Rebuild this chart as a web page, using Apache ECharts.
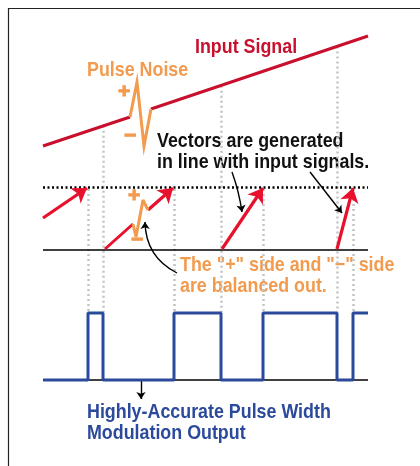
<!DOCTYPE html>
<html>
<head>
<meta charset="utf-8">
<script src="https://cdn.jsdelivr.net/npm/echarts@6/dist/echarts.min.js"></script>
<style>
html, body { margin: 0; padding: 0; background: #fff; }
#chart { width: 420px; height: 466px; }
</style>
</head>
<body>
<div id="chart"></div>
<script>
// drawing units: x to the right, y grows downward (same scale as the picture)
var inputSignalA = [[43, 146], [130, 117]];
var inputSignalB = [[151, 109], [368, 36]];
var pulseNoise = [[130, 117], [137, 82], [144, 146], [151, 109]];

// PWM switching instants and the levels between them
var switchX = [88, 103, 174, 221, 263, 337, 353];
var sampleX = [103, 221, 337];
var pwmStart = 43, pwmEnd = 368;
var pwmLevels = [0, 1, 0, 1, 0, 1, 0, 1];
var pwmLow = 380, pwmHigh = 313;

// vector area
var vectorTop = 187, vectorBase = 249;
var vectors = [
  [[43, 218], [87, 188]],
  [[148, 210], [173, 188]],
  [[222, 249], [263, 188]],
  [[337, 249], [353, 188]]
];
var vectorTail = [[105, 249], [133, 224]];
var vectorNoise = [[133, 224], [136, 237], [143, 200], [148, 210]];

// thin annotation pointers [from, to, curveness]
var pointers = [
  [[232, 172], [242, 212], 0.05],
  [[310, 172], [342, 213], 0],
  [[177, 273], [145, 222], 0.3]
];
var outputPointer = [[141, 381], [141, 399]];

// texts
var texts = [
  'Input Signal', 'Pulse Noise', '+', '\u2212',
  'Vectors are generated', 'in line with input signals.',
  '+', '\u2212',
  'The "+" side and "\u2212" side', 'are balanced out.',
  'Highly-Accurate Pulse Width', 'Modulation Output'
];

// layout of the texts: [x(left), y(middle), colour]
var RED = '#c8102e', ARROW_RED = '#e8112d', ORANGE = '#f29b4f', BLUE = '#2c4a9c';
var textPos = [
  [195, 47, RED], [87, 70, ORANGE], [118, 92, ORANGE], [124, 136, ORANGE],
  [157, 141, '#111'], [157, 162, '#111'],
  [128, 196, ORANGE], [131, 240, ORANGE],
  [180, 265, ORANGE], [180, 286, ORANGE],
  [87, 412, BLUE], [87, 433, BLUE]
];
var FONT = 'bold 21px "Liberation Sans", Arial, sans-serif';
var SQUEEZE = 0.85;

function inputY(x) {
  var a = inputSignalA[0], b = inputSignalB[1];
  return a[1] + (x - a[0]) * (b[1] - a[1]) / (b[0] - a[0]);
}

var dotted = switchX.map(function (x) {
  var top = sampleX.indexOf(x) >= 0 ? inputY(x) : vectorTop + 2;
  return { coords: [[x, top], [x, pwmHigh - 1]] };
});

var edges = [pwmStart].concat(switchX).concat([pwmEnd]);
var pwmData = [];
pwmLevels.forEach(function (lv, i) {
  var y = lv ? pwmHigh : pwmLow;
  pwmData.push([edges[i], y]);
  pwmData.push([edges[i + 1], y]);
});

var chart = echarts.init(document.getElementById('chart'));
chart.setOption({
  animation: false,
  backgroundColor: '#fff',
  grid: { left: 0, right: 0, top: 0, bottom: 0 },
  xAxis: { type: 'value', min: 0, max: 420, show: false },
  yAxis: { type: 'value', min: 0, max: 466, inverse: true, show: false },
  series: [
    {
      type: 'lines', coordinateSystem: 'cartesian2d', silent: true,
      lineStyle: { color: '#c4c4c4', width: 2.5, type: [2, 3], opacity: 1 },
      data: dotted
    },
    {
      type: 'lines', coordinateSystem: 'cartesian2d', silent: true,
      lineStyle: { color: '#000', width: 2.5, type: [2, 2.5], opacity: 1 },
      data: [{ coords: [[pwmStart, vectorTop], [pwmEnd, vectorTop]] }]
    },
    {
      type: 'lines', coordinateSystem: 'cartesian2d', silent: true,
      lineStyle: { color: '#000', width: 1.6, opacity: 1 },
      data: [
        { coords: [[pwmStart, vectorBase + 1], [pwmEnd, vectorBase + 1]] },
        { coords: [[pwmStart, pwmLow], [pwmEnd, pwmLow]] }
      ]
    },
    {
      type: 'line', symbol: 'none', silent: true, data: inputSignalA,
      lineStyle: { color: RED, width: 3 }
    },
    {
      type: 'line', symbol: 'none', silent: true, data: inputSignalB,
      lineStyle: { color: RED, width: 3 }
    },
    {
      type: 'line', symbol: 'none', silent: true, data: pulseNoise,
      lineStyle: { color: ORANGE, width: 3, join: 'miter' }
    },
    {
      type: 'line', symbol: 'none', silent: true, data: vectorTail,
      lineStyle: { color: ARROW_RED, width: 3 }
    },
    {
      type: 'line', symbol: 'none', silent: true, data: vectorNoise,
      lineStyle: { color: ORANGE, width: 3 }
    },
    {
      type: 'lines', coordinateSystem: 'cartesian2d', silent: true,
      symbol: ['none', 'arrow'], symbolSize: 14,
      lineStyle: { color: ARROW_RED, width: 3.2, opacity: 1 },
      data: vectors.map(function (v) { return { coords: v }; })
    },
    {
      type: 'lines', coordinateSystem: 'cartesian2d', silent: true,
      symbol: ['none', 'arrow'], symbolSize: 7,
      lineStyle: { color: '#000', width: 1.4, opacity: 1 },
      data: pointers.map(function (p) {
        return { coords: [p[0], p[1]], lineStyle: { curveness: p[2] } };
      }).concat([{ coords: outputPointer }])
    },
    {
      type: 'line', symbol: 'none', silent: true, data: pwmData,
      lineStyle: { color: BLUE, width: 3 }
    }
  ]
});

// frame and texts, placed through the grid's own scales
var corner = chart.convertToPixel({ gridIndex: 0 }, [8, 8]);
var graphics = [{
  type: 'polyline', silent: true,
  shape: { points: [[corner[0] + 0.5, 470], [corner[0] + 0.5, corner[1] + 0.5], [425, corner[1] + 0.5]] },
  style: { stroke: '#222', lineWidth: 1.2, fill: null }
}];
texts.forEach(function (t, i) {
  var p = chart.convertToPixel({ gridIndex: 0 }, [textPos[i][0], textPos[i][1]]);
  var single = t.length === 1;
  graphics.push({
    type: 'text', silent: true, x: p[0], y: p[1], scaleX: single ? 1 : SQUEEZE,
    style: {
      text: t, x: 0, y: 0, font: FONT, fill: textPos[i][2],
      stroke: single ? textPos[i][2] : null, lineWidth: single ? 1 : 0,
      align: 'left', verticalAlign: 'middle',
      textAlign: 'left', textVerticalAlign: 'middle'
    }
  });
});
chart.setOption({ graphic: graphics });
</script>
</body>
</html>
